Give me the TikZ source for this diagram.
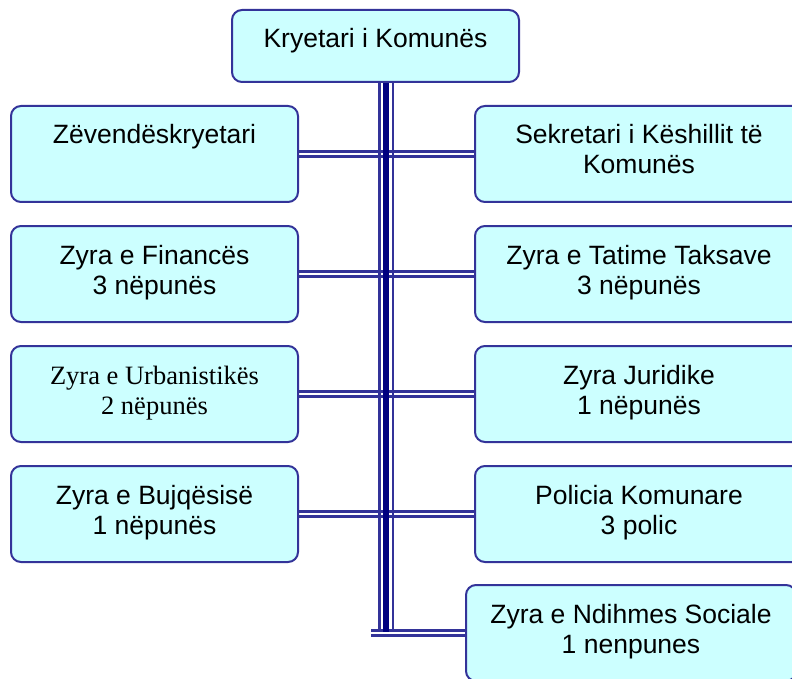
\documentclass[tikz,border=0pt]{standalone}
\usepackage{fontspec}
\setmainfont{Liberation Sans}
\newfontfamily\tnrfont{Liberation Serif}
\pgfdeclarelayer{back}
\pgfdeclarelayer{bg}
\pgfsetlayers{back,bg,main}
\definecolor{boxfill}{HTML}{CCFFFF}
\definecolor{boxline}{HTML}{333399}
\definecolor{navyline}{HTML}{000080}
\newcommand{\mytwo}[2]{\begin{tabular}[t]{@{}c@{}}#1\\#2\end{tabular}}
\begin{document}
\begin{tikzpicture}[x=1pt,y=-1pt,
  box/.style={draw=boxline, fill=boxfill, line width=2pt, rounded corners=10pt,
    anchor=north west, inner sep=0pt, outer sep=0pt},
  lbl/.style={anchor=base, inner sep=0pt, font=\fontsize{26.5}{30}\selectfont},
  dconn/.style={draw=boxline, line width=2.3pt, double=white, double distance=2.7pt},
  thinv/.style={draw=boxline, line width=2.7pt},
  thickv/.style={draw=navyline, line width=6pt}]
\useasboundingbox (0,0) rectangle (792,679);
\begin{pgfonlayer}{back}
\fill[white] (0,0) rectangle (792,679);
\end{pgfonlayer}
\clip (0,0) rectangle (792,679);
% boxes
\node[box, minimum width=287pt, minimum height=72pt] (kry) at (232,10) {};
\node[box, minimum width=287pt, minimum height=96pt] (zev) at (11,106) {};
\node[box, minimum width=287pt, minimum height=96pt] (fin) at (11,226) {};
\node[box, minimum width=287pt, minimum height=96pt] (urb) at (11,346) {};
\node[box, minimum width=287pt, minimum height=96pt] (buj) at (11,466) {};
\node[box, minimum width=328pt, minimum height=96pt] (sek) at (475,106) {};
\node[box, minimum width=328pt, minimum height=96pt] (tat) at (475,226) {};
\node[box, minimum width=328pt, minimum height=96pt] (jur) at (475,346) {};
\node[box, minimum width=328pt, minimum height=96pt] (pol) at (475,466) {};
\node[box, minimum width=330pt, minimum height=96pt] (ndi) at (466,585) {};
% texts
\node[lbl] (kryT) at ([yshift=-38pt]kry.north) {Kryetari i Komunës};
\node[lbl] (zevT) at ([yshift=-38pt]zev.north) {Zëvendëskryetari};
\node[lbl] (finT) at ([yshift=-38pt]fin.north) {\mytwo{Zyra e Financës}{3 nëpunës}};
\node[lbl, font=\tnrfont\fontsize{26.5}{30}\selectfont] (urbT) at ([yshift=-38pt]urb.north) {\mytwo{Zyra e Urbanistikës}{2 nëpunës}};
\node[lbl] (bujT) at ([yshift=-38pt]buj.north) {\mytwo{Zyra e Bujqësisë}{1 nëpunës}};
\node[lbl] (sekT) at ([yshift=-38pt]sek.north) {\mytwo{Sekretari i Këshillit të}{Komunës}};
\node[lbl] (tatT) at ([yshift=-38pt]tat.north) {\mytwo{Zyra e Tatime Taksave}{3 nëpunës}};
\node[lbl] (jurT) at ([yshift=-38pt]jur.north) {\mytwo{Zyra Juridike}{1 nëpunës}};
\node[lbl] (polT) at ([yshift=-38pt]pol.north) {\mytwo{Policia Komunare}{3 polic}};
\node[lbl] (ndiT) at ([yshift=-38pt]ndi.north) {\mytwo{Zyra e Ndihmes Sociale}{1 nenpunes}};
% connector coordinates
\coordinate (tL) at (379.7,632);
\coordinate (tM) at (386.3,632);
\coordinate (tR) at (393,632);
\coordinate (bfree) at (371,633);
\begin{pgfonlayer}{bg}
\draw[dconn] (zev.east) -- (sek.west);
\draw[dconn] (fin.east) -- (tat.west);
\draw[dconn] (urb.east) -- (jur.west);
\draw[dconn] (buj.east) -- (pol.west);
\draw[dconn] (bfree) -- (ndi.west);
\draw[thinv] (tL |- kry.south) -- (tL);
\draw[thickv] (tM |- kry.south) -- (tM);
\draw[thinv] (tR |- kry.south) -- (tR);
\end{pgfonlayer}
\end{tikzpicture}
\end{document}
